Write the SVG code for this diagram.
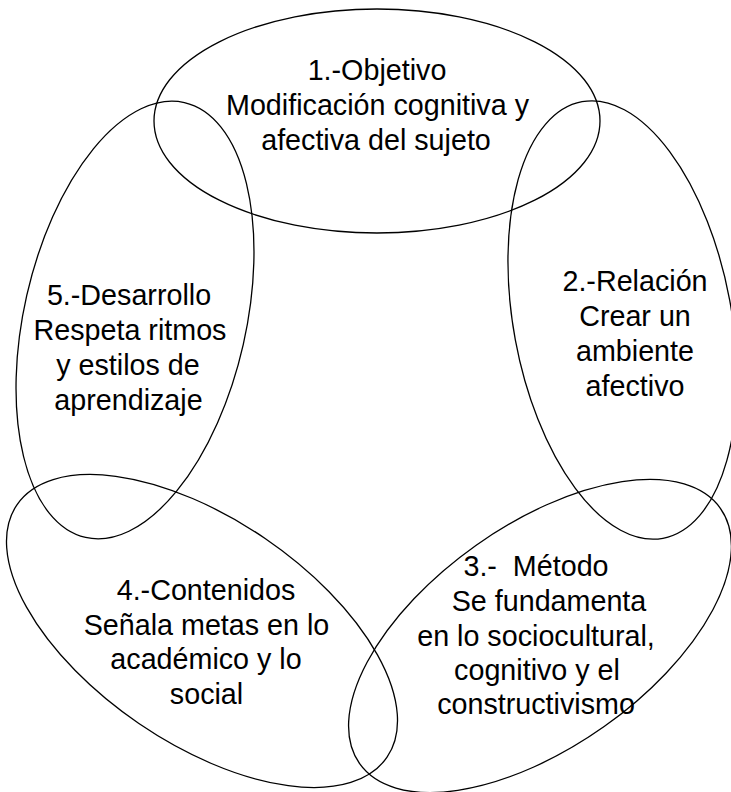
<svg xmlns="http://www.w3.org/2000/svg" width="731" height="792" viewBox="0 0 731 792">
<style>
  .ring { fill: none; stroke: #000; stroke-width: 1.3; }
  .lbl { font-family: "Liberation Sans", Arial, sans-serif; font-size: 28.7px; fill: #000; text-anchor: middle; white-space: pre; }
</style>
<rect width="731" height="792" fill="#fff"/>
<g id="node-1">
  <ellipse class="ring" cx="377" cy="121" rx="223" ry="112"/>
  <text class="lbl" x="377" y="80">1.-Objetivo</text>
  <text class="lbl" x="377.5" y="115">Modificación cognitiva y</text>
  <text class="lbl" x="376" y="150">afectiva del sujeto</text>
</g>
<g id="node-2">
  <ellipse class="ring" cx="0" cy="0" rx="109" ry="222" transform="translate(622.5 320) rotate(-10.5)"/>
  <text class="lbl" x="635" y="291">2.-Relación</text>
  <text class="lbl" x="635" y="326">Crear un</text>
  <text class="lbl" x="635" y="361">ambiente</text>
  <text class="lbl" x="635" y="396">afectivo</text>
</g>
<g id="node-3">
  <ellipse class="ring" cx="0" cy="0" rx="221" ry="111" transform="translate(540 636) rotate(-35.3)"/>
  <text class="lbl" x="536" y="576">3.-  Método</text>
  <text class="lbl" x="549" y="611">Se fundamenta</text>
  <text class="lbl" x="536" y="646">en lo sociocultural,</text>
  <text class="lbl" x="537" y="680">cognitivo y el</text>
  <text class="lbl" x="536" y="714">constructivismo</text>
</g>
<g id="node-4">
  <ellipse class="ring" cx="0" cy="0" rx="224" ry="112" transform="translate(202 631) rotate(34.3)"/>
  <text class="lbl" x="206" y="600">4.-Contenidos</text>
  <text class="lbl" x="206.5" y="635">Señala metas en lo</text>
  <text class="lbl" x="206" y="669">académico y lo</text>
  <text class="lbl" x="206.5" y="704">social</text>
</g>
<g id="node-5">
  <ellipse class="ring" cx="0" cy="0" rx="111" ry="223" transform="translate(135 320) rotate(12.8)"/>
  <text class="lbl" x="129" y="305">5.-Desarrollo</text>
  <text class="lbl" x="130" y="340">Respeta ritmos</text>
  <text class="lbl" x="128" y="375">y estilos de</text>
  <text class="lbl" x="128.5" y="410">aprendizaje</text>
</g>
<g id="connectors"></g>
</svg>
